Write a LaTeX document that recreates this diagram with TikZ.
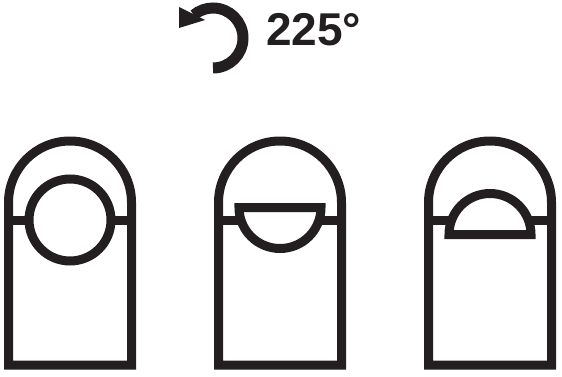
\documentclass[tikz,border=0pt]{standalone}
\usepackage{fontspec}
\setmainfont{Liberation Sans}
\usepackage{xcolor}
\usepackage{tikz}
\definecolor{ink}{HTML}{231F20}

\begin{document}
\begin{tikzpicture}[
    x=1pt, y=1pt,
    outline/.style={draw=ink, line width=9pt},
    cutout/.style={draw=ink, fill=white, line width=9pt},
    turn/.style={draw=ink, line width=11pt},
    label/.style={inner sep=0pt, anchor=base west, text=ink,
      font=\fontsize{46}{46}\selectfont\bfseries}
]
\useasboundingbox (0,0) rectangle (562,376);

% rotation sign
\draw[turn] (213,308) arc (-90:130:30);
\fill[ink] (179,369) -- (179,348) -- (205,356) -- cycle;
\node[label] (angle) at (266,331) {225°};

% the three bodies
\foreach \cx in {70,280,490} {
  \draw[outline] (\cx-61.5,11) -- (\cx-61.5,173.5) arc (180:0:61.5)
    -- (\cx+61.5,11) -- cycle;
  \draw[outline] (\cx-61.5,156) -- (\cx+61.5,156);
}

% openings
\draw[cutout] (70,156) circle (41);
\draw[cutout] (239,168.5) arc (180:360:41) -- cycle;
\draw[cutout] (449,141.5) arc (180:0:41) -- cycle;
\end{tikzpicture}
\end{document}
